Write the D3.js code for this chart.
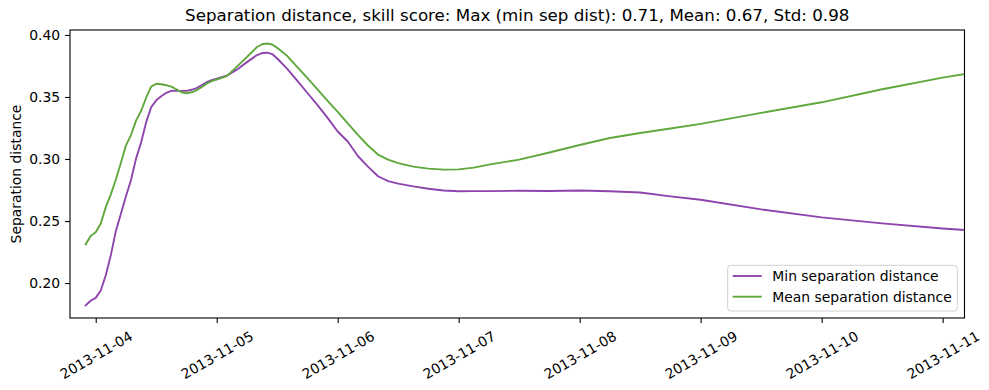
<!DOCTYPE html>
<html>
<head>
<meta charset="utf-8">
<script src="https://cdn.jsdelivr.net/npm/d3@7"></script>
<style>
  html, body { margin: 0; padding: 0; background: #fff; }
  svg { display: block; font-family: "DejaVu Sans", sans-serif; }
</style>
</head>
<body>
<svg id="chart" width="989" height="390"></svg>
<script>
const titleText = "Separation distance, skill score: Max (min sep dist): 0.71, Mean: 0.67, Std: 0.98";
const yLabel = "Separation distance";
const seriesNames = ["Min separation distance", "Mean separation distance"];
const seriesColors = ["#8e44ad", "#5fa83c"];

const times = [
  "2013-11-03 22:00", "2013-11-03 23:00",
  "2013-11-04 00:00", "2013-11-04 01:00", "2013-11-04 02:00", "2013-11-04 03:00",
  "2013-11-04 04:00", "2013-11-04 05:00", "2013-11-04 06:00", "2013-11-04 07:00",
  "2013-11-04 08:00", "2013-11-04 09:00", "2013-11-04 10:00", "2013-11-04 11:00",
  "2013-11-04 12:00", "2013-11-04 13:00", "2013-11-04 14:00", "2013-11-04 15:00",
  "2013-11-04 16:00", "2013-11-04 17:00", "2013-11-04 18:00", "2013-11-04 19:00",
  "2013-11-04 20:00", "2013-11-04 21:00", "2013-11-04 22:00", "2013-11-04 23:00",
  "2013-11-05 00:00", "2013-11-05 02:00", "2013-11-05 04:00", "2013-11-05 06:00",
  "2013-11-05 08:00", "2013-11-05 09:00", "2013-11-05 10:00", "2013-11-05 11:00",
  "2013-11-05 12:00", "2013-11-05 14:00", "2013-11-05 16:00", "2013-11-05 18:00",
  "2013-11-05 20:00", "2013-11-05 22:00", "2013-11-06 00:00", "2013-11-06 02:00",
  "2013-11-06 04:00", "2013-11-06 06:00", "2013-11-06 08:00", "2013-11-06 10:00",
  "2013-11-06 12:00", "2013-11-06 15:00", "2013-11-06 18:00", "2013-11-06 21:00",
  "2013-11-07 00:00", "2013-11-07 03:00", "2013-11-07 06:00", "2013-11-07 12:00",
  "2013-11-07 18:00", "2013-11-08 00:00", "2013-11-08 06:00", "2013-11-08 12:00",
  "2013-11-08 18:00", "2013-11-09 00:00", "2013-11-09 12:00", "2013-11-10 00:00",
  "2013-11-10 12:00", "2013-11-11 00:00", "2013-11-11 04:20"
];

const minSep = [
  0.1820, 0.1857,
  0.1880, 0.1940, 0.2063, 0.2225,
  0.2420, 0.2558, 0.2700, 0.2830,
  0.3003, 0.3133, 0.3295, 0.3417,
  0.3473, 0.3506, 0.3534, 0.3550,
  0.3549, 0.3549, 0.3549, 0.3558,
  0.3571, 0.3595, 0.3619, 0.3635,
  0.3647, 0.3672, 0.3720, 0.3781,
  0.3838, 0.3854, 0.3857, 0.3846,
  0.3810, 0.3727, 0.3630, 0.3532,
  0.3435, 0.3332, 0.3222, 0.3141,
  0.3024, 0.2938, 0.2861, 0.2821,
  0.2801, 0.2779, 0.2760, 0.2746,
  0.2740, 0.2741, 0.2741, 0.2744,
  0.2742, 0.2746, 0.2740, 0.2730,
  0.2699, 0.2671, 0.2594, 0.2529,
  0.2481, 0.2440, 0.2428
];

const meanSep = [
  0.2312, 0.2380,
  0.2410, 0.2480, 0.2612, 0.2715,
  0.2835, 0.2970, 0.3110, 0.3193,
  0.3309, 0.3387, 0.3494, 0.3583,
  0.3607, 0.3603, 0.3595, 0.3584,
  0.3562, 0.3538, 0.3530, 0.3538,
  0.3554, 0.3579, 0.3607, 0.3627,
  0.3641, 0.3668, 0.3745, 0.3822,
  0.3903, 0.3925, 0.3931, 0.3923,
  0.3896, 0.3830, 0.3741, 0.3652,
  0.3562, 0.3469, 0.3380, 0.3287,
  0.3194, 0.3109, 0.3036, 0.2995,
  0.2967, 0.2938, 0.2922, 0.2914,
  0.2916, 0.2930, 0.2955, 0.2995,
  0.3052, 0.3113, 0.3169, 0.3210,
  0.3246, 0.3283, 0.3372, 0.3457,
  0.3562, 0.3656, 0.3684
];

const xTickLabels = ["2013-11-04", "2013-11-05", "2013-11-06", "2013-11-07",
                     "2013-11-08", "2013-11-09", "2013-11-10", "2013-11-11"];
const yTickValues = [0.20, 0.25, 0.30, 0.35, 0.40];
const xDomain = ["2013-11-03 18:54", "2013-11-11 04:20"];
const yDomain = [0.1718, 0.4040];

const parse = d3.timeParse("%Y-%m-%d %H:%M");
const parseDay = d3.timeParse("%Y-%m-%d");

const svg = d3.select("#chart");
const m = { left: 70, top: 30, right: 989 - 964.5, bottom: 390 - 318 };
const W = 989 - m.left - m.right, H = 390 - m.top - m.bottom;

const x = d3.scaleTime().domain(xDomain.map(parse)).range([m.left, m.left + W]);
const y = d3.scaleLinear().domain(yDomain).range([m.top + H, m.top]);

const series = [minSep, meanSep].map((vals, i) => ({
  name: seriesNames[i], color: seriesColors[i],
  points: times.map((t, j) => ({ t: parse(t), v: vals[j] }))
}));

svg.append("defs").append("clipPath").attr("id", "clip")
  .append("rect").attr("x", m.left).attr("y", m.top).attr("width", W).attr("height", H);

const line = d3.line().x(d => x(d.t)).y(d => y(d.v));
svg.append("g").attr("clip-path", "url(#clip)")
  .selectAll("path").data(series).join("path")
  .attr("d", d => line(d.points))
  .attr("fill", "none").attr("stroke", d => d.color)
  .attr("stroke-width", 1.9).attr("stroke-linejoin", "round").attr("stroke-linecap", "square");

// Axes
const fs = 13.9;
const yAxis = d3.axisLeft(y).tickValues(yTickValues).tickFormat(d3.format(".2f"))
  .tickSize(4.9).tickPadding(4.9);
const gy = svg.append("g").attr("transform", `translate(${m.left},0)`).call(yAxis);
gy.select(".domain").remove();
gy.selectAll("line").attr("stroke", "#000").attr("stroke-width", 1.1);
gy.selectAll("text").attr("font-size", fs).attr("font-family", "DejaVu Sans").attr("fill", "#000");

const xTicks = xTickLabels.map(parseDay);
const xAxis = d3.axisBottom(x).tickValues(xTicks).tickFormat(d3.timeFormat("%Y-%m-%d"))
  .tickSize(4.9).tickPadding(4.9);
const gx = svg.append("g").attr("transform", `translate(0,${m.top + H})`).call(xAxis);
gx.select(".domain").remove();
gx.selectAll("line").attr("stroke", "#000").attr("stroke-width", 1.1);
gx.selectAll("text").each(function () {
  const t = d3.select(this);
  t.attr("font-size", fs).attr("font-family", "DejaVu Sans").attr("fill", "#000")
   .attr("dy", null).attr("y", null);
  const w = this.getComputedTextLength();
  const h = fs * 1.16;
  const ang = 30 * Math.PI / 180;
  const bh = w * Math.sin(ang) + h * Math.cos(ang);
  const top = 4.9 + 4.9;
  t.attr("text-anchor", "middle").attr("dominant-baseline", "central")
   .attr("transform", `translate(0,${top + bh / 2}) rotate(-30)`);
});

// Frame
svg.append("rect").attr("x", m.left).attr("y", m.top).attr("width", W).attr("height", H)
  .attr("fill", "none").attr("stroke", "#000").attr("stroke-width", 1.1);

// Title
svg.append("text").attr("x", m.left + W / 2).attr("y", 21).attr("text-anchor", "middle")
  .attr("font-size", 16.7).attr("fill", "#000").text(titleText);

// Y label
svg.append("text").attr("transform", `translate(21,${m.top + H / 2}) rotate(-90)`)
  .attr("text-anchor", "middle").attr("font-size", fs).attr("fill", "#000").text(yLabel);

// Legend
const lg = svg.append("g");
lg.append("rect").attr("x", 727.7).attr("y", 265.3).attr("width", 229.6).attr("height", 45.7)
  .attr("rx", 3).attr("fill", "#fff").attr("fill-opacity", 0.8)
  .attr("stroke", "#d0d0d0").attr("stroke-width", 1);
const items = lg.selectAll("g.item").data(series).join("g")
  .attr("transform", (d, i) => `translate(0,${276 + i * 20.7})`);
items.append("line").attr("x1", 732.7).attr("x2", 761.7)
  .attr("stroke", d => d.color).attr("stroke-width", 1.9);
items.append("text").attr("x", 772.3).attr("y", 5).attr("font-size", fs)
  .attr("fill", "#000").text(d => d.name);
</script>
</body>
</html>
